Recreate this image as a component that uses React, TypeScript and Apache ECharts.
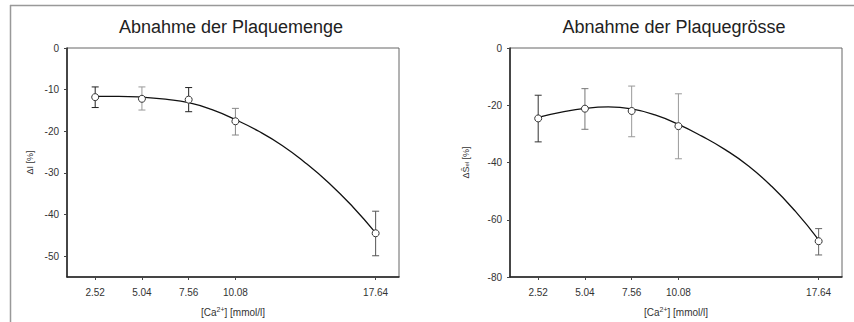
import React, { useEffect, useRef } from "react";
import * as echarts from "echarts";

// ---- data ----
const xTicks = [2.52, 5.04, 7.56, 10.08, 17.64];

// left chart: Abnahme der Plaquemenge
const amountMean = [-11.8, -12.2, -12.4, -17.6, -44.5];
const amountLow = [-14.3, -14.9, -15.3, -20.9, -49.9];
const amountHigh = [-9.35, -9.35, -9.5, -14.5, -39.2];
const fitX = [2.52, 3.78, 5.04, 6.3, 7.56, 8.82, 10.08, 11.34, 12.6, 13.86, 15.12, 16.38, 17.64];
const amountFitY = [-11.6, -11.6, -11.8, -12.3, -13.1, -14.8, -17.2, -20.0, -23.4, -27.6, -32.4, -38.0, -44.4];
const amountYTicks = [0, -10, -20, -30, -40, -50];

// right chart: Abnahme der Plaquegrösse
const sizeMean = [-24.6, -21.2, -22.0, -27.3, -67.5];
const sizeLow = [-32.8, -28.4, -31.0, -38.7, -72.3];
const sizeHigh = [-16.5, -14.2, -13.3, -16.0, -63.1];
const sizeFitY = [-24.2, -22.4, -21.1, -20.6, -21.3, -23.4, -26.7, -30.8, -35.5, -41.2, -48.4, -57.0, -67.0];
const sizeYTicks = [0, -20, -40, -60, -80];

// ---- styles ----
const FONT = "Liberation Sans";
const amountBarColors = ["#222", "#999", "#222", "#888", "#555"];
const sizeBarColors = ["#333", "#777", "#999", "#999", "#666"];

const zip = (a: number[], b: number[]) => a.map((v, i) => [v, b[i]]);

function errorSeries(idx: number, lows: number[], highs: number[], colors: string[]) {
  return {
    type: "custom",
    xAxisIndex: idx,
    yAxisIndex: idx,
    z: 1,
    data: xTicks.map((x, i) => [x, lows[i], highs[i]]),
    encode: { x: 0, y: [1, 2] },
    renderItem: (params: any, api: any) => {
      const x = api.value(0);
      const lo = api.value(1);
      const hi = api.value(2);
      const p1 = api.coord([x, hi]);
      const p2 = api.coord([x, lo]);
      const w = 3.5;
      const c = colors[params.dataIndex];
      const st = { stroke: c, lineWidth: 1 };
      return {
        type: "group",
        children: [
          { type: "line", shape: { x1: p1[0], y1: p1[1], x2: p2[0], y2: p2[1] }, style: st },
          { type: "line", shape: { x1: p1[0] - w, y1: p1[1], x2: p1[0] + w, y2: p1[1] }, style: st },
          { type: "line", shape: { x1: p2[0] - w, y1: p2[1], x2: p2[0] + w, y2: p2[1] }, style: st },
        ],
      };
    },
  };
}

function xAxisFor(idx: number) {
  return {
    type: "value",
    gridIndex: idx,
    min: 1,
    max: 18.9,
    name: "[Ca{sup|2+}] [mmol/l]",
    nameLocation: "middle",
    nameGap: 29,
    nameTextStyle: {
      fontFamily: FONT,
      fontSize: 10,
      color: "#333",
      rich: { sup: { fontFamily: FONT, fontSize: 7, color: "#333", verticalAlign: "top", padding: [0, 0, 5, 0] } },
    },
    axisLine: { show: true, onZero: false, lineStyle: { color: "#222", width: 1.5 } },
    axisTick: { show: true, length: 3, customValues: xTicks, lineStyle: { color: "#444" } },
    axisLabel: { customValues: xTicks, margin: 10, fontFamily: FONT, fontSize: 10, color: "#333", formatter: (v: number) => v.toFixed(2) },
    splitLine: { show: false },
  };
}

function yAxisFor(idx: number, min: number, ticks: number[], name: string, gap: number) {
  return {
    type: "value",
    gridIndex: idx,
    min,
    max: 0,
    name,
    nameLocation: "middle",
    nameGap: gap,
    nameTextStyle: {
      fontFamily: FONT,
      fontSize: 9,
      color: "#333",
      rich: { sub: { fontFamily: FONT, fontSize: 6, color: "#333", verticalAlign: "bottom" } },
    },
    axisLine: { show: true, onZero: false, lineStyle: { color: "#222", width: 1.5 } },
    axisTick: { show: true, length: 3, customValues: ticks, lineStyle: { color: "#444" } },
    axisLabel: { customValues: ticks, margin: 8, fontFamily: FONT, fontSize: 10, color: "#333" },
    splitLine: { show: false },
  };
}

export default function App() {
  const ref = useRef<HTMLDivElement>(null);
  useEffect(() => {
    document.body.style.margin = "0";
    if (!ref.current) return;
    const chart = echarts.init(ref.current, undefined, { renderer: "svg" });
    chart.setOption({
      animation: false,
      backgroundColor: "#fff",
      grid: [
        { left: 67, top: 48, width: 332, height: 229, show: true, borderColor: "#666", borderWidth: 1 },
        { left: 510, top: 48, width: 332, height: 229, show: true, borderColor: "#666", borderWidth: 1 },
      ],
      xAxis: [xAxisFor(0), xAxisFor(1)],
      yAxis: [
        yAxisFor(0, -55, amountYTicks, "ΔI [%]", 33),
        yAxisFor(1, -80, sizeYTicks, "ΔŜ{sub|el} [%]", 40),
      ],
      graphic: [
        { type: "line", shape: { x1: 10, y1: 5.5, x2: 854, y2: 5.5 }, style: { stroke: "#999", lineWidth: 1.5 } },
        { type: "line", shape: { x1: 10.5, y1: 5, x2: 10.5, y2: 322 }, style: { stroke: "#999", lineWidth: 1.5 } },
        {
          type: "text",
          x: 231,
          y: 27,
          style: { text: "Abnahme der Plaquemenge", fontFamily: FONT, fontSize: 18, fill: "#222", align: "center", verticalAlign: "middle" },
        },
        {
          type: "text",
          x: 674,
          y: 27,
          style: { text: "Abnahme der Plaquegrösse", fontFamily: FONT, fontSize: 18, fill: "#222", align: "center", verticalAlign: "middle" },
        },
      ],
      series: [
        errorSeries(0, amountLow, amountHigh, amountBarColors),
        errorSeries(1, sizeLow, sizeHigh, sizeBarColors),
        {
          type: "line",
          xAxisIndex: 0,
          yAxisIndex: 0,
          z: 2,
          smooth: true,
          showSymbol: false,
          data: zip(fitX, amountFitY),
          lineStyle: { color: "#111", width: 1.3 },
        },
        {
          type: "line",
          xAxisIndex: 1,
          yAxisIndex: 1,
          z: 2,
          smooth: true,
          showSymbol: false,
          data: zip(fitX, sizeFitY),
          lineStyle: { color: "#111", width: 1.3 },
        },
        {
          type: "scatter",
          xAxisIndex: 0,
          yAxisIndex: 0,
          z: 3,
          symbol: "circle",
          symbolSize: 7,
          data: zip(xTicks, amountMean),
          itemStyle: { color: "#fff", borderColor: "#333", borderWidth: 1, opacity: 1 },
        },
        {
          type: "scatter",
          xAxisIndex: 1,
          yAxisIndex: 1,
          z: 3,
          symbol: "circle",
          symbolSize: 7,
          data: zip(xTicks, sizeMean),
          itemStyle: { color: "#fff", borderColor: "#333", borderWidth: 1, opacity: 1 },
        },
      ],
    });
    return () => chart.dispose();
  }, []);
  return <div ref={ref} style={{ width: 854, height: 322 }} />;
}
